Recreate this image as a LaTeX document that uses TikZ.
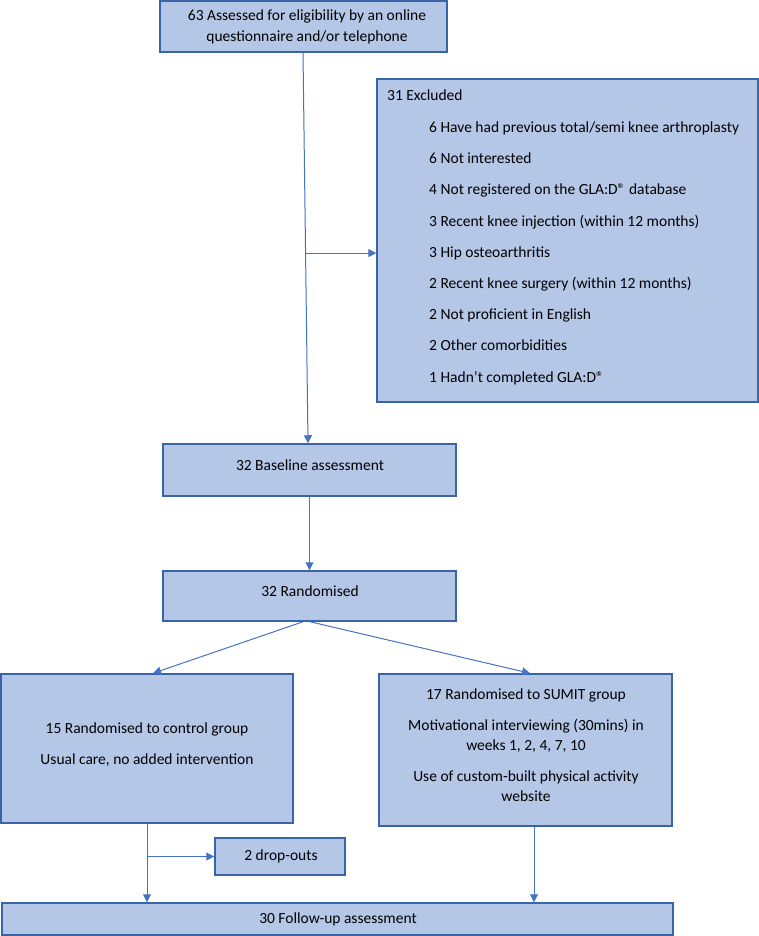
\documentclass[tikz,border=0pt]{standalone}
\usepackage{fontspec}
\setmainfont{Carlito}
\usetikzlibrary{arrows.meta,calc}
\definecolor{boxfill}{HTML}{B4C7E7}
\definecolor{boxline}{HTML}{3A64A8}
\definecolor{arr}{HTML}{4472C4}
\begin{document}
\begin{tikzpicture}[x=1pt,y=-1pt,
  box/.style={draw=boxline, fill=boxfill, line width=1.5pt, inner sep=0pt},
  t/.style={anchor=base, inner sep=0pt, font=\fontsize{15.5}{20.5}\selectfont},
  tl/.style={t, anchor=base west},
  con/.style={draw=arr, line width=1pt, -{Triangle[length=8pt,width=8pt]}}]
\useasboundingbox (0,0) rectangle (759,936);
% boxes
\node[box, minimum width=287pt, minimum height=51pt] (top) at (303.5,26.5) {};
\node[box, minimum width=381pt, minimum height=323pt] (excl) at (567.5,240.5) {};
\node[box, minimum width=293pt, minimum height=52pt] (base) at (309.5,470) {};
\node[box, minimum width=293pt, minimum height=50pt] (rand) at (309.5,596) {};
\node[box, minimum width=292pt, minimum height=149pt] (ctrl) at (147,748.5) {};
\node[box, minimum width=293pt, minimum height=152pt] (sumit) at (525.5,750) {};
\node[box, minimum width=130pt, minimum height=37pt] (drop) at (280,856.5) {};
\node[box, minimum width=671pt, minimum height=32pt] (follow) at (337.5,919) {};
% texts
\node[t] (topA) at (307,21) {63 Assessed for eligibility by an online};
\node[t] (topB) at (307,42) {questionnaire and/or telephone};
\node[tl] (ex0) at (387,101) {31 Excluded};
\node[tl] (ex1) at (429,132.5) {6 Have had previous total/semi knee arthroplasty};
\node[tl] (ex2) at (429,163.7) {6 Not interested};
\node[tl] (ex3) at (429,194.9) {4 Not registered on the GLA:D® database};
\node[tl] (ex4) at (429,226.1) {3 Recent knee injection (within 12 months)};
\node[tl] (ex5) at (429,257.3) {3 Hip osteoarthritis};
\node[tl] (ex6) at (429,288.5) {2 Recent knee surgery (within 12 months)};
\node[tl] (ex7) at (429,319.7) {2 Not proficient in English};
\node[tl] (ex8) at (429,350.9) {2 Other comorbidities};
\node[tl] (ex9) at (429,382.1) {1 Hadn’t completed GLA:D®};
\node[t] (baseT) at (310,470) {32 Baseline assessment};
\node[t] (randT) at (310,596) {32 Randomised};
\node[t] (ctrlA) at (147,733) {15 Randomised to control group};
\node[t] (ctrlB) at (147,764) {Usual care, no added intervention};
\node[t] (sumA) at (526,699) {17 Randomised to SUMIT group};
\node[t] (sumB) at (526,730) {Motivational interviewing (30mins) in};
\node[t] (sumC) at (526,750.5) {weeks 1, 2, 4, 7, 10};
\node[t] (sumD) at (526,781) {Use of custom-built physical activity};
\node[t] (sumE) at (526,801.5) {website};
\node[t] (dropT) at (281,860) {2 drop-outs};
\node[t] (follT) at (338,923) {30 Follow-up assessment};
% connectors
\coordinate (v1) at ($(top.south)+(-0.5,0)$);
\coordinate (v2) at ($(base.north)+(-1.5,0)$);
\draw[con] (v1) -- (v2);
\coordinate (br) at ($(v1)!0.513!(v2)$);
\draw[con] (br) -- (br -| excl.west);
\draw[con] (base.south) -- (rand.north);
\draw[con] ($(rand.south)+(-6.5,0)$) -- ($(ctrl.north)+(6,0)$);
\draw[con] ($(rand.south)+(0.5,0)$) -- ($(sumit.north)+(4.5,0)$);
\draw[con] (ctrl.south) -- (ctrl.south |- follow.north);
\coordinate (br2) at (ctrl.south |- drop.west);
\draw[con] (br2) -- (drop.west);
\coordinate (s1) at ($(sumit.south)+(8.5,0)$);
\draw[con] (s1) -- (s1 |- follow.north);
\end{tikzpicture}
\end{document}
